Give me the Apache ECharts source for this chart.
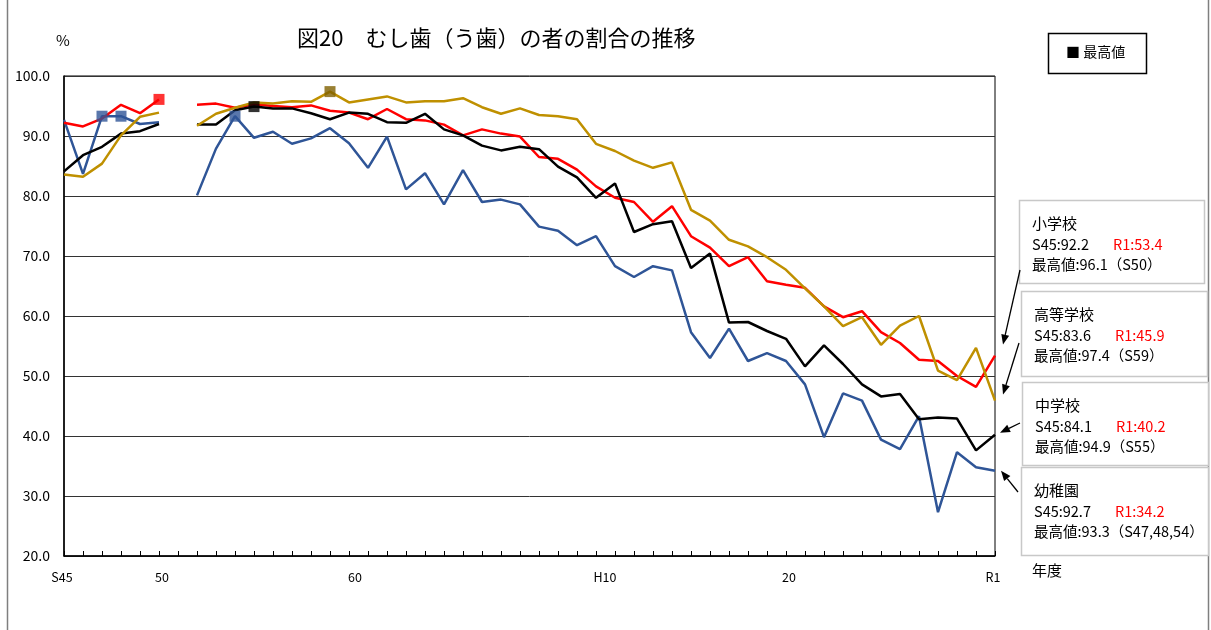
<!DOCTYPE html>
<html>
<head>
<meta charset="utf-8">
<script src="https://cdn.jsdelivr.net/npm/echarts@6/dist/echarts.min.js"></script>
<style>
  html, body { margin: 0; background: #fff; }
  #main { width: 1211px; height: 630px; }
</style>
</head>
<body>
<div id="main"></div>
<script>
// years S45..S63, H1..H30, R1
var years = [];
for (var s = 45; s <= 63; s++) years.push("S" + s);
for (var h = 1; h <= 30; h++) years.push("H" + h);
years.push("R1");

var tickIdx = [0, 5, 15, 28, 38, 49];
var tickText = ["S45", "50", "60", "H10", "20", "R1"];
var tickShift = [-2, 3, 6, 9, 3, -2];

// 小学校
var elem = [92.2, 91.6, 92.9, 95.2, 93.8, 96.1, null, 95.2, 95.4, 94.7,
  95.3, 95.0, 94.8, 95.1, 94.2, 93.9, 92.8, 94.5, 92.8, 92.6,
  91.9, 90.1, 91.1, 90.4, 89.9, 86.5, 86.2, 84.4, 81.6, 79.7,
  79.0, 75.7, 78.3, 73.3, 71.4, 68.3, 69.8, 65.8, 65.2, 64.7,
  61.6, 59.8, 60.8, 57.3, 55.5, 52.7, 52.5, 50.0, 48.2, 53.4];
// 中学校
var middle = [84.1, 86.8, 88.2, 90.4, 90.8, 92.0, null, 91.9, 91.9, 94.3,
  94.9, 94.6, 94.6, 93.8, 92.8, 93.9, 93.7, 92.3, 92.2, 93.7,
  91.1, 90.1, 88.4, 87.6, 88.2, 87.8, 84.9, 83.1, 79.7, 82.1,
  74.0, 75.3, 75.8, 68.0, 70.4, 58.9, 59.0, 57.5, 56.2, 51.6,
  55.1, 52.0, 48.6, 46.6, 47.0, 42.8, 43.1, 42.9, 37.6, 40.2];
// 高等学校
var high = [83.6, 83.2, 85.4, 90.1, 93.2, 93.9, null, 91.7, 93.7, 94.7,
  95.6, 95.4, 95.8, 95.7, 97.4, 95.6, 96.1, 96.6, 95.6, 95.8,
  95.8, 96.3, 94.8, 93.7, 94.6, 93.5, 93.3, 92.8, 88.7, 87.5,
  85.9, 84.7, 85.6, 77.7, 75.9, 72.7, 71.6, 69.8, 67.7, 64.6,
  61.6, 58.3, 59.8, 55.2, 58.4, 60.0, 50.9, 49.3, 54.7, 45.9];
// 幼稚園
var kinder = [92.7, 83.7, 93.3, 93.3, 92.0, 92.3, null, 80.1, 87.9, 93.3,
  89.7, 90.7, 88.7, 89.6, 91.3, 88.8, 84.7, 89.9, 81.1, 83.8,
  78.6, 84.3, 79.0, 79.4, 78.6, 74.9, 74.2, 71.8, 73.3, 68.3,
  66.5, 68.3, 67.6, 57.3, 53.0, 57.9, 52.5, 53.8, 52.5, 48.6,
  39.8, 47.1, 45.9, 39.4, 37.8, 43.3, 27.3, 37.3, 34.8, 34.2];

var font = '"Noto Sans CJK JP", "Noto Sans", sans-serif';

var seriesDefs = [
  { name: "幼稚園", data: kinder, color: "#2F5597", mark: "#2F5597" },
  { name: "小学校", data: elem, color: "#FF0000", mark: "#FF0000" },
  { name: "中学校", data: middle, color: "#000000", mark: "#000000" },
  { name: "高等学校", data: high, color: "#BF9000", mark: "#7F6000" }
];

function maxOf(d) {
  var m = -Infinity;
  d.forEach(function (v) { if (v != null && v > m) m = v; });
  return m;
}

var series = [];
seriesDefs.forEach(function (sd) {
  series.push({
    name: sd.name,
    type: "line",
    data: sd.data,
    symbol: "none",
    connectNulls: false,
    lineStyle: { color: sd.color, width: 2.5 },
    z: 2
  });
  // squares on the highest value(s)
  var m = maxOf(sd.data);
  var pts = [];
  sd.data.forEach(function (v, i) { if (v === m) pts.push([i, v]); });
  series.push({
    type: "scatter",
    data: pts,
    symbol: "rect",
    symbolSize: 11,
    itemStyle: { color: sd.mark },
    z: 3
  });
});

var rich = {};
tickShift.forEach(function (sh, k) {
  rich["p" + k] = {
    fontSize: 12.5, color: "#000", fontFamily: font,
    padding: sh >= 0 ? [0, 0, 0, 2 * sh] : [0, -2 * sh, 0, 0]
  };
});

var chart = echarts.init(document.getElementById("main"));
var option = {
  animation: false,
  backgroundColor: "#fff",
  grid: {
    left: 64, right: 216, top: 76, bottom: 74,
    show: true, borderColor: "#000", borderWidth: 1
  },
  xAxis: {
    type: "category",
    data: years,
    boundaryGap: false,
    axisLine: { lineStyle: { color: "#000", width: 1.5 } },
    axisTick: { show: true, inside: true, length: 5, interval: 0, lineStyle: { color: "#000" } },
    axisLabel: {
      interval: function (i) { return tickIdx.indexOf(i) >= 0; },
      formatter: function (v, i) {
        var k = tickIdx.indexOf(i);
        return k < 0 ? "" : "{p" + k + "|" + tickText[k] + "}";
      },
      rich: rich,
      margin: 15
    },
    splitLine: { show: false }
  },
  yAxis: {
    type: "value",
    min: 20, max: 100, interval: 10,
    axisLine: { show: true, lineStyle: { color: "#000", width: 1.5 } },
    axisTick: { show: false },
    axisLabel: {
      formatter: function (v) { return v.toFixed(1); },
      fontSize: 14, color: "#000", fontFamily: font, margin: 14
    },
    splitLine: { lineStyle: { color: "#333", width: 1 } }
  },
  series: series
};
chart.setOption(option);

// annotation boxes
var noteBoxes = [
  { d: elem, name: "小学校", x: 1019, y: 200, w: 185, h: 83 },
  { d: high, name: "高等学校", x: 1021, y: 291, w: 186, h: 85 },
  { d: middle, name: "中学校", x: 1022, y: 382, w: 186, h: 83 },
  { d: kinder, name: "幼稚園", x: 1021, y: 467, w: 187, h: 88 }
];
// arrow tails and tip offsets from the last data point
var arrowTail = [[1020, 270], [1019, 343], [1020, 423], [1018, 492]];
var arrowOff = [[8, -11], [8, -6], [5, -2], [6, 0]];

function maxYears(d) {
  var m = maxOf(d), out = [];
  d.forEach(function (v, i) { if (v === m) out.push(years[i]); });
  return out.map(function (y, k) { return k === 0 ? y : y.replace(/^S|^H/, ""); }).join(",");
}

var g = [];
// outer frame
g.push({ type: "line", shape: { x1: 7.5, y1: 0, x2: 7.5, y2: 630 }, style: { stroke: "#7f7f7f", lineWidth: 1.5 } });
g.push({ type: "line", shape: { x1: 1208.5, y1: 0, x2: 1208.5, y2: 630 }, style: { stroke: "#7f7f7f", lineWidth: 1.5 } });
// title
g.push({ type: "text", left: 297, top: 27, style: { text: "図20　むし歯（う歯）の者の割合の推移", font: "22px " + font, fill: "#000" } });
g.push({ type: "text", left: 56, top: 33, style: { text: "%", font: "15px " + font, fill: "#000" } });
g.push({ type: "text", left: 1032, top: 563, style: { text: "年度", font: "15px " + font, fill: "#000" } });
// legend
g.push({ type: "rect", shape: { x: 1048.5, y: 33.5, width: 98, height: 40 }, style: { fill: "#fff", stroke: "#000", lineWidth: 1.5 } });
g.push({ type: "text", left: 1066, top: 45, style: { text: "■ 最高値", font: "14px " + font, fill: "#000" } });

noteBoxes.forEach(function (b) {
  g.push({ type: "rect", shape: { x: b.x + 0.5, y: b.y + 0.5, width: b.w, height: b.h }, style: { fill: "#fff", stroke: "#c8c8c8", lineWidth: 1.5 } });
  var tx = b.x + 13;
  g.push({ type: "text", x: tx, y: b.y + 23, style: { text: b.name, font: "15px " + font, fill: "#000", verticalAlign: "middle" } });
  g.push({ type: "text", x: tx, y: b.y + 44, style: { text: "S45:" + b.d[0].toFixed(1), font: "14.5px " + font, fill: "#000", verticalAlign: "middle" } });
  g.push({ type: "text", x: tx + 81, y: b.y + 44, style: { text: "R1:" + b.d[b.d.length - 1].toFixed(1), font: "14.5px " + font, fill: "#FF0000", verticalAlign: "middle" } });
  g.push({ type: "text", x: tx, y: b.y + 64, style: { text: "最高値:" + maxOf(b.d).toFixed(1) + "（" + maxYears(b.d) + "）", font: "14.5px " + font, fill: "#000", verticalAlign: "middle" } });
});

noteBoxes.forEach(function (b, k) {
  var end = chart.convertToPixel({ gridIndex: 0 }, [b.d.length - 1, b.d[b.d.length - 1]]);
  var tip = [end[0] + arrowOff[k][0], end[1] + arrowOff[k][1]];
  var tail = arrowTail[k];
  var dx = tip[0] - tail[0], dy = tip[1] - tail[1];
  var len = Math.sqrt(dx * dx + dy * dy);
  var ux = dx / len, uy = dy / len;
  var L = 10, W = 4;
  var bx = tip[0] - ux * L, by = tip[1] - uy * L;
  g.push({ type: "line", shape: { x1: tail[0], y1: tail[1], x2: bx, y2: by }, style: { stroke: "#000", lineWidth: 1.3 } });
  g.push({ type: "polygon", shape: { points: [tip, [bx - uy * W, by + ux * W], [bx + uy * W, by - ux * W]] }, style: { fill: "#000" } });
});

chart.setOption({ graphic: g });
</script>
</body>
</html>
